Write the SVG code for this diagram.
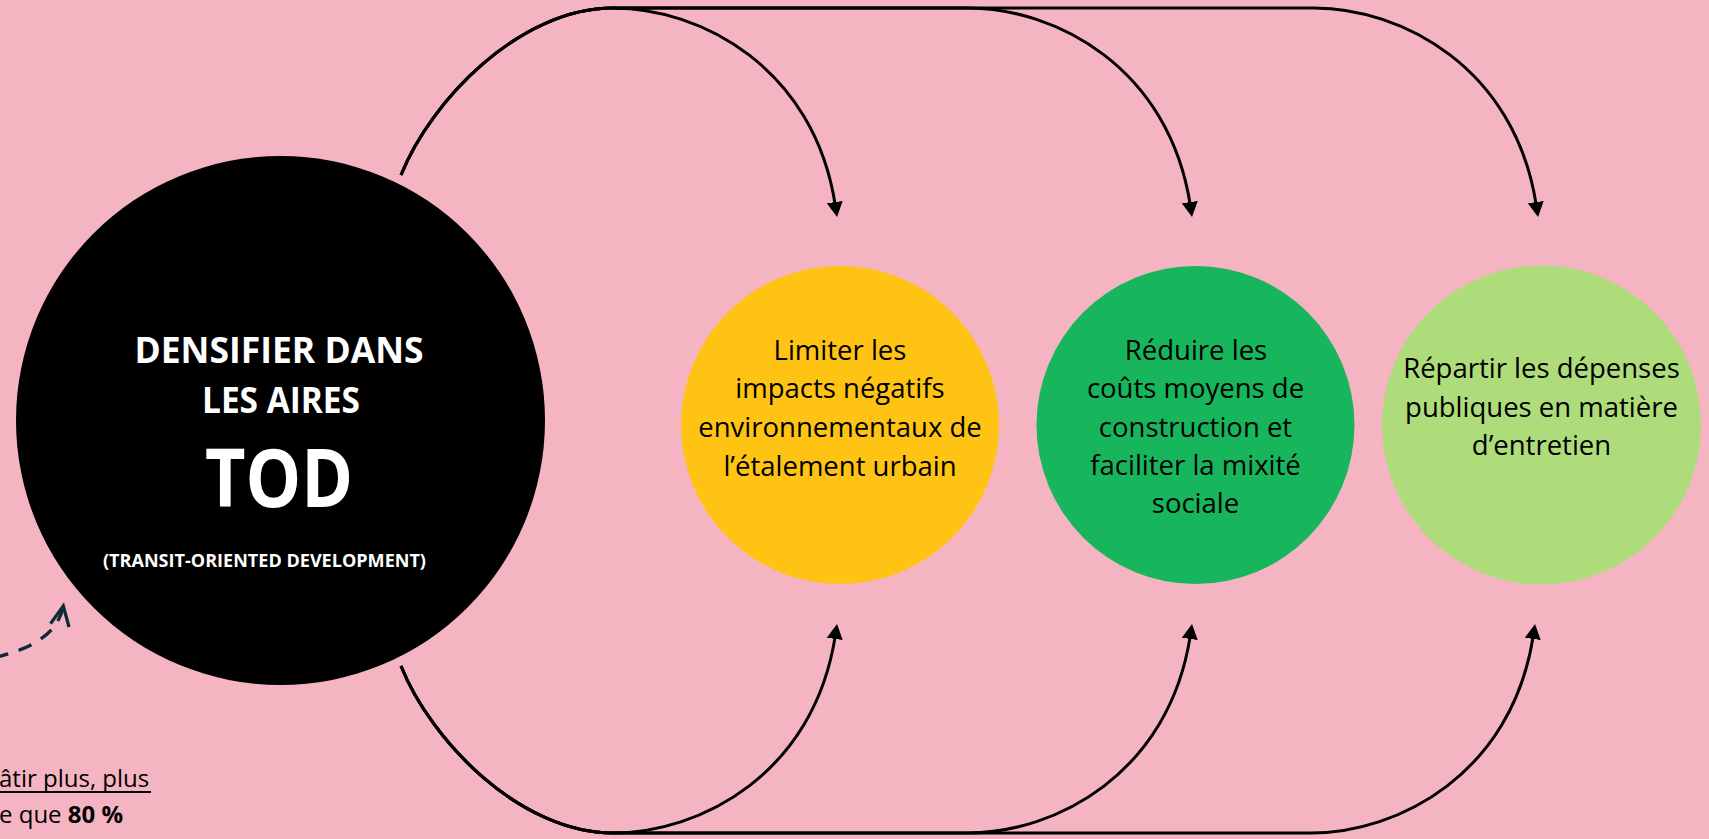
<svg xmlns="http://www.w3.org/2000/svg" width="1709" height="839" viewBox="0 0 1709 839">
  <style>
    .conn { fill: none; stroke: #000; stroke-width: 3; marker-end: url(#ah); }
    .title { font-family: "Open Sans", "Liberation Sans", sans-serif; font-weight: 700; fill: #fff; text-anchor: middle; }
    .lbl { font-family: "Open Sans", "Liberation Sans", sans-serif; font-size: 27.5px; fill: #000; text-anchor: middle; }
    .note { font-family: "Open Sans", "Liberation Sans", sans-serif; font-size: 24px; fill: #000; }
  </style>
  <defs>
    <marker id="ah" viewBox="0 0 15 16" refX="4" refY="8" markerWidth="15" markerHeight="16" markerUnits="userSpaceOnUse" orient="auto">
      <path d="M0 0 L15 8 L0 16 Z" fill="#000"/>
    </marker>
    <marker id="dah" viewBox="-24 -12 28 24" refX="0" refY="0" markerWidth="28" markerHeight="24" markerUnits="userSpaceOnUse" orient="auto" overflow="visible">
      <path d="M-19.6 -9.4 L0 0 L-19.6 9.4" fill="none" stroke="#0d2a3a" stroke-width="3.3" stroke-dasharray="none"/>
    </marker>
  </defs>

  <rect x="0" y="0" width="1709" height="839" fill="#f4b4c1"/>

  <g id="connectors">
    <path class="conn" d="M401 175 C431 100 520 8 613 8 C700 8 814.4 67.1 835.4 206.1"/>
    <path class="conn" d="M401 175 C431 100 520 8 613 8 L968 8 C1055 8 1169.4 67.1 1190.4 206.1"/>
    <path class="conn" d="M401 175 C431 100 520 8 613 8 L1314 8 C1401 8 1515.4 67.1 1536.4 206.1"/>
    <path class="conn" d="M401 666 C431 741 520 833 613 833 C700 833 814.4 773.9 835.4 634.9"/>
    <path class="conn" d="M401 666 C431 741 520 833 613 833 L968 833 C1055 833 1169.4 773.9 1190.4 634.9"/>
    <path class="conn" d="M401 666 C431 741 520 833 613 833 L1311 833 C1398 833 1512.4 773.9 1533.4 634.9"/>
    <path id="dashed" d="M-30 662 C20 655 57.3 639 63.3 606" fill="none" stroke="#0d2a3a" stroke-width="3.3" stroke-dasharray="14 11" marker-end="url(#dah)"/>
  </g>

  <g id="node-tod">
    <circle cx="280.5" cy="420.5" r="264.5" fill="#000"/>
    <text class="title" x="279" y="363" font-size="35.5" textLength="289" lengthAdjust="spacingAndGlyphs">DENSIFIER DANS</text>
    <text class="title" x="281" y="413" font-size="35.5" textLength="158" lengthAdjust="spacingAndGlyphs">LES AIRES</text>
    <text class="title" x="279" y="507" font-size="80" textLength="148" lengthAdjust="spacingAndGlyphs">TOD</text>
    <text class="title" x="264.5" y="567" font-size="18" textLength="323" lengthAdjust="spacingAndGlyphs">(TRANSIT-ORIENTED DEVELOPMENT)</text>
  </g>

  <g id="node-limiter">
    <circle cx="840" cy="425" r="159" fill="#ffc314"/>
    <text class="lbl" x="840" y="359.5">Limiter les</text>
    <text class="lbl" x="840" y="398">impacts négatifs</text>
    <text class="lbl" x="840" y="437">environnementaux de</text>
    <text class="lbl" x="840" y="475.5">l’étalement urbain</text>
  </g>

  <g id="node-reduire">
    <circle cx="1195.5" cy="425" r="159" fill="#17b65c"/>
    <text class="lbl" x="1196" y="359.5">Réduire les</text>
    <text class="lbl" x="1195.5" y="398">coûts moyens de</text>
    <text class="lbl" x="1195.5" y="437">construction et</text>
    <text class="lbl" x="1195.5" y="475">faciliter la mixité</text>
    <text class="lbl" x="1195.5" y="513">sociale</text>
  </g>

  <g id="node-repartir">
    <circle cx="1541.5" cy="425" r="159.5" fill="#afdc7a"/>
    <text class="lbl" x="1541.5" y="378">Répartir les dépenses</text>
    <text class="lbl" x="1541.5" y="417">publiques en matière</text>
    <text class="lbl" x="1541.5" y="455">d’entretien</text>
  </g>

  <g id="note">
    <text class="note" x="-1" y="787">âtir plus, plus</text>
    <rect x="0" y="791" width="151" height="2" fill="#000"/>
    <text class="note" x="-1" y="823">e que <tspan font-weight="700">80 %</tspan></text>
  </g>
</svg>
